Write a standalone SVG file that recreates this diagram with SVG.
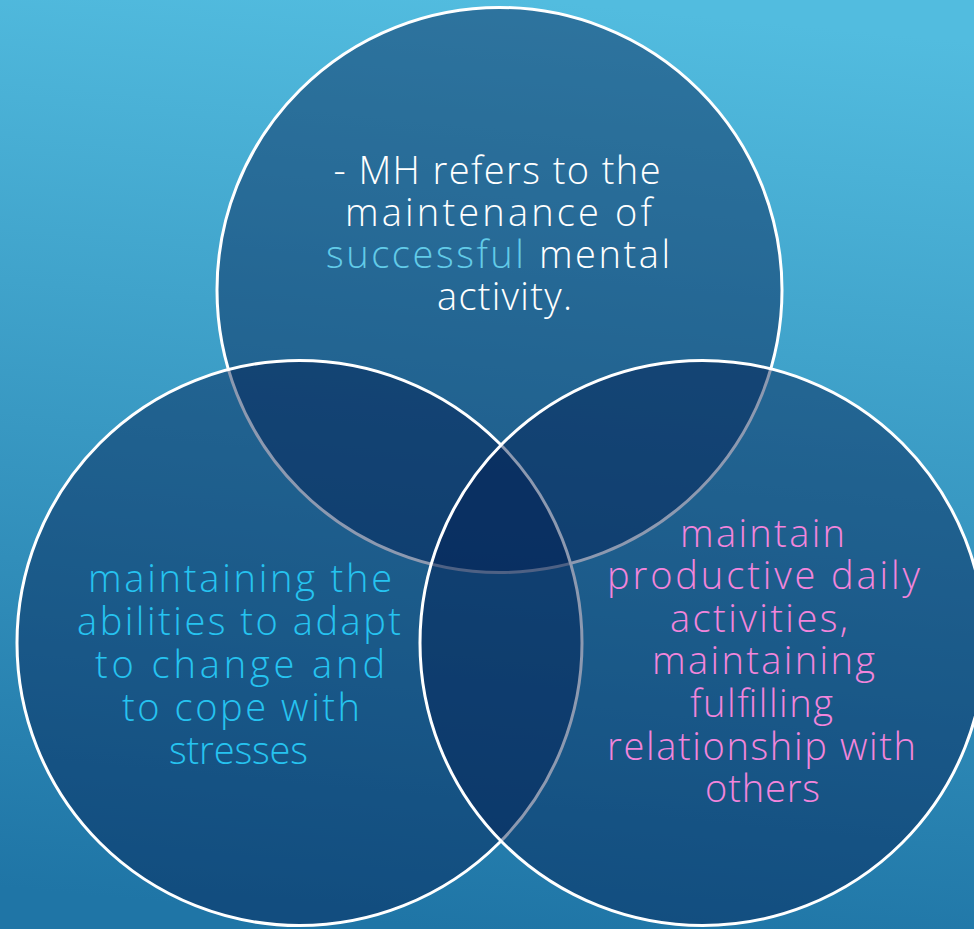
<svg xmlns="http://www.w3.org/2000/svg" width="974" height="929" viewBox="0 0 974 929">
  <defs>
    <linearGradient id="bg" x1="0.55" y1="0" x2="0.45" y2="1">
      <stop offset="0" stop-color="#52bcdf"/>
      <stop offset="1" stop-color="#1f75a6"/>
    </linearGradient>
    <style>
      .disc { fill: #021c50; fill-opacity: 0.45; stroke: #ffffff; stroke-width: 3; }
      .lbl { font-family: "Open Sans", "DejaVu Sans", sans-serif; font-weight: 300; font-size: 38px; text-anchor: middle; }
      .white { fill: #ffffff; }
      .accent { fill: #62cbe8; }
      .cyan { fill: #26c3f0; }
      .pink { fill: #f285dc; }
    </style>
  </defs>

  <rect x="0" y="0" width="974" height="929" fill="url(#bg)"/>

  <!-- upper circle: definition -->
  <g id="node-definition">
    <circle class="disc" cx="499.5" cy="290" r="282.5"/>
    <text class="lbl white" x="497" y="184" textLength="327">- MH refers to the</text>
    <text class="lbl white" x="498.5" y="226" textLength="307">maintenance of</text>
    <text class="lbl white" x="498" y="268" textLength="344"><tspan class="accent">successful</tspan> mental</text>
    <text class="lbl white" x="504.5" y="310" textLength="135">activity.</text>
  </g>

  <!-- lower left circle: adaptation -->
  <g id="node-adapt">
    <circle class="disc" cx="299.5" cy="643" r="282.5"/>
    <text class="lbl cyan" x="240" y="592" textLength="304">maintaining the</text>
    <text class="lbl cyan" x="239" y="635" textLength="324">abilities to adapt</text>
    <text class="lbl cyan" x="240" y="678" textLength="290">to change and</text>
    <text class="lbl cyan" x="241" y="721" textLength="238">to cope with</text>
    <text class="lbl cyan" x="238.5" y="764" textLength="139">stresses</text>
  </g>

  <!-- lower right circle: daily life and relationships -->
  <g id="node-daily">
    <circle class="disc" cx="702.5" cy="643" r="282.5"/>
    <text class="lbl pink" x="762.5" y="547" textLength="165">maintain</text>
    <text class="lbl pink" x="763.5" y="589" textLength="313">productive daily</text>
    <text class="lbl pink" x="759" y="632" textLength="178">activities,</text>
    <text class="lbl pink" x="763.5" y="674" textLength="223">maintaining</text>
    <text class="lbl pink" x="761.5" y="717" textLength="143">fulfilling</text>
    <text class="lbl pink" x="761.5" y="760" textLength="309">relationship with</text>
    <text class="lbl pink" x="762.5" y="802" textLength="115">others</text>
  </g>

  <g id="connectors"/>
</svg>
